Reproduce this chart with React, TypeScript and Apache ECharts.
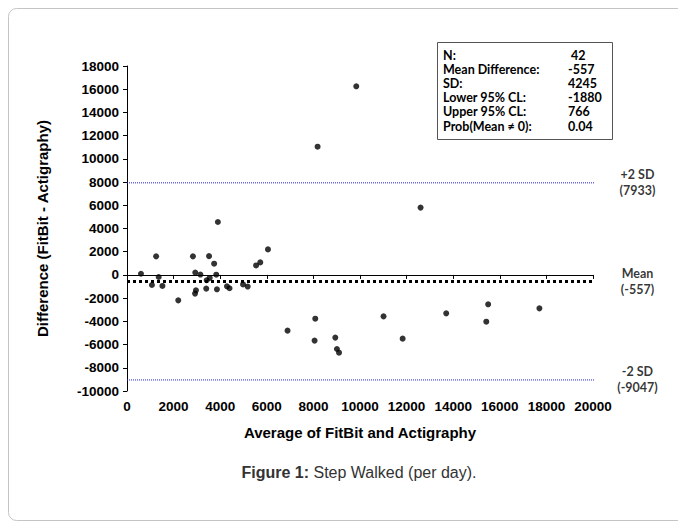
import React, { useEffect, useRef } from "react";
import * as echarts from "echarts";

// Average of FitBit and Actigraphy (x) vs Difference (y)
const AVERAGES = [
  600, 1070, 1250, 1360, 1520, 2200, 2830, 2930, 3150, 2960, 2920, 3400, 3420, 3550,
  3520, 3740, 3830, 3860, 3900, 4290, 4400, 4980, 5180, 5540, 5720, 6050,
  8180, 12600, 8080, 6890, 8050, 8940, 9010, 9100, 11010, 11830, 13700, 9840,
  15500, 15420, 17700,
];
const DIFFERENCES = [
  100, -870, 1600, -180, -950, -2190, 1600, 200, 30, -1330, -1610, -1180, -460, -260,
  1620, 970, 20, -1240, 4560, -980, -1150, -820, -1000, 820, 1080, 2200,
  11050, 5800, -3770, -4800, -5660, -5400, -6380, -6700, -3570, -5490, -3310, 16250,
  -2530, -4030, -2880,
];

const MEAN_DIFF = -557;
const UPPER_LIMIT = 7933;
const LOWER_LIMIT = -9047;
const LIMIT_NAMES = ["+2 SD", "Mean", "-2 SD"];
const LIMIT_VALUES = [UPPER_LIMIT, MEAN_DIFF, LOWER_LIMIT];

const STAT_LABELS = ["N:", "Mean Difference:", "SD:", "Lower 95% CL:", "Upper 95% CL:", "Prob(Mean \u2260 0):"];
const STAT_VALUES = [" 42", "-557", "4245", "-1880", "766", "0.04"];

const X_TICKS = { min: 0, max: 20000, interval: 2000 };
const Y_TICKS = { min: -10000, max: 18000, interval: 2000 };

const X_TITLE = "Average of FitBit and Actigraphy";
const Y_TITLE = "Difference (FitBit - Actigraphy)";
const CAPTION_BOLD = "Figure 1:";
const CAPTION_REST = " Step Walked (per day).";

const LINE_END_X = 20750;

export default function App() {
  const ref = useRef<HTMLDivElement>(null);
  useEffect(() => {
    if (!ref.current) return;
    const chart = echarts.init(ref.current, null, { renderer: "svg" });
    const font = "Liberation Sans, Arial, sans-serif";
    const boxFont = "Lato, Liberation Sans, sans-serif";
    const statTexts: any[] = [];
    STAT_LABELS.forEach((lab, i) => {
      statTexts.push({
        type: "text",
        x: 443,
        y: 55.5 + i * 14.1,
        style: { text: lab, font: `bold 12.5px ${boxFont}`, fill: "#000", textVerticalAlign: "middle" },
      });
      statTexts.push({
        type: "text",
        x: 568,
        y: 55.5 + i * 14.1,
        style: { text: STAT_VALUES[i], font: `bold 12.5px ${boxFont}`, fill: "#000", textVerticalAlign: "middle" },
      });
    });
    const limitStyles = [
      { color: "#2424d8", width: 1, type: [1, 1] },
      { color: "#000", width: 3, type: [3, 3] },
      { color: "#2424d8", width: 1, type: [1, 1] },
    ];
    const limitSeries = LIMIT_VALUES.map((v, i) => ({
      type: "line",
      clip: false,
      silent: true,
      symbol: "none",
      color: limitStyles[i].color,
      lineStyle: limitStyles[i],
      data: [
        [X_TICKS.min, v],
        [LINE_END_X, v],
      ],
      z: 1,
    }));
    const plain = (v: number) => String(v);
    chart.setOption({
      animation: false,
      backgroundColor: "#fff",
      grid: { left: 127, right: 85, top: 66, bottom: 132, containLabel: false },
      xAxis: {
        type: "value",
        min: X_TICKS.min,
        max: X_TICKS.max,
        interval: X_TICKS.interval,
        name: X_TITLE,
        nameLocation: "middle",
        nameGap: 34,
        nameTextStyle: { fontFamily: font, fontWeight: "bold", fontSize: 15, color: "#000" },
        axisLine: { lineStyle: { color: "#000", width: 1 } },
        axisTick: { show: true, length: 4, lineStyle: { color: "#000" } },
        axisLabel: { margin: 8, formatter: plain, fontFamily: font, fontWeight: "bold", fontSize: 13.5, color: "#000" },
        splitLine: { show: false },
      },
      yAxis: {
        type: "value",
        min: Y_TICKS.min,
        max: Y_TICKS.max,
        interval: Y_TICKS.interval,
        name: Y_TITLE,
        nameLocation: "middle",
        nameGap: 77,
        nameTextStyle: { fontFamily: font, fontWeight: "bold", fontSize: 15, color: "#000" },
        axisLine: { show: true, lineStyle: { color: "#000", width: 1 } },
        axisTick: { show: true, length: 4, lineStyle: { color: "#000" } },
        axisLabel: { margin: 8, formatter: plain, fontFamily: font, fontWeight: "bold", fontSize: 13.5, color: "#000" },
        splitLine: { show: false },
      },
      series: [
        ...limitSeries,
        {
          type: "scatter",
          clip: false,
          silent: true,
          symbol: "circle",
          symbolSize: 0,
          itemStyle: { color: "transparent" },
          data: LIMIT_VALUES.map((v) => [LINE_END_X, v]),
          label: {
            show: true,
            position: [27, 0],
            align: "center",
            verticalAlign: "middle",
            formatter: (p: any) => `${LIMIT_NAMES[p.dataIndex]}\n(${LIMIT_VALUES[p.dataIndex]})`,
            fontFamily: boxFont,
            fontWeight: "bold",
            fontSize: 12.5,
            lineHeight: 16,
            color: "#000",
          },
        },
        {
          type: "scatter",
          clip: false,
          symbol: "circle",
          symbolSize: 6,
          itemStyle: { color: "#000" },
          data: AVERAGES.map((x, i) => [x, DIFFERENCES[i]]),
          z: 3,
        },
      ],
      graphic: [
        {
          type: "rect",
          shape: { x: 8.5, y: 8.5, width: 700, height: 512, r: 8 },
          style: { fill: "none", stroke: "#c4c4c4", lineWidth: 1 },
          silent: true,
        },
        {
          type: "rect",
          shape: { x: 437.5, y: 42.5, width: 175, height: 97 },
          style: { fill: "#fff", stroke: "#555", lineWidth: 1 },
          silent: true,
        },
        ...statTexts,
        {
          type: "text",
          x: 359,
          y: 472,
          style: {
            text: `{b|${CAPTION_BOLD}}{n|${CAPTION_REST}}`,
            textAlign: "center",
            textVerticalAlign: "middle",
            rich: {
              b: { font: `bold 16px ${font}`, fill: "#333" },
              n: { font: `16px ${font}`, fill: "#333" },
            },
          },
        },
      ],
    });
    return () => chart.dispose();
  }, []);
  return <div ref={ref} style={{ position: "fixed", left: 0, top: 0, width: 678, height: 523 }} />;
}
